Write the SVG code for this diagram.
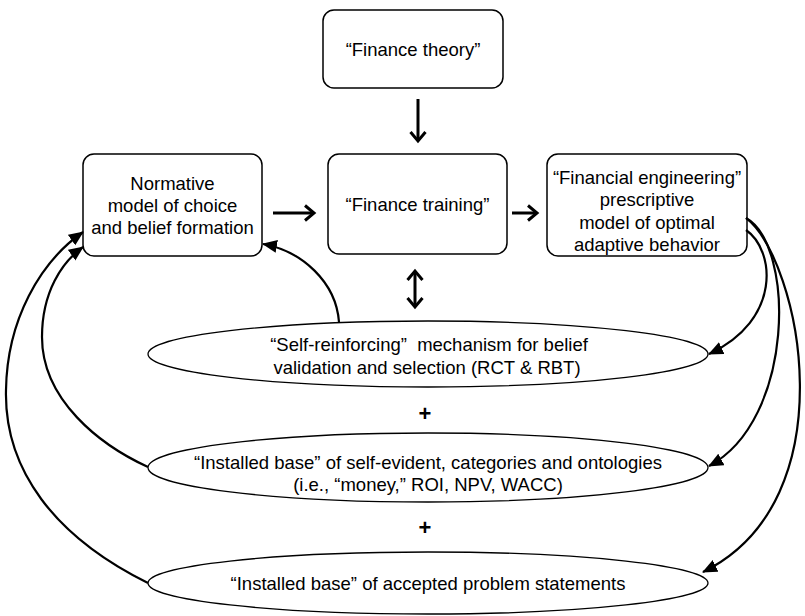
<svg xmlns="http://www.w3.org/2000/svg" width="805" height="616" viewBox="0 0 805 616">
  <style>
    .box { fill: #ffffff; stroke: #000000; stroke-width: 1.5; }
    .oval { fill: #ffffff; stroke: #000000; stroke-width: 1.3; }
    text { font-family: "Liberation Sans", Arial, sans-serif; font-size: 18.5px; fill: #000000; text-anchor: middle; }
    .plus { font-weight: bold; font-size: 22px; }
    .straight { fill: none; stroke: #000000; stroke-width: 3; }
    .curve { fill: none; stroke: #000000; stroke-width: 2.2; }
  </style>
  <defs>
    <marker id="chevron" markerUnits="userSpaceOnUse" markerWidth="14" markerHeight="18" refX="11" refY="9" orient="auto-start-reverse">
      <polyline points="2,1.5 11,9 2,16.5" fill="none" stroke="#000000" stroke-width="3"/>
    </marker>
    <marker id="tri" markerUnits="userSpaceOnUse" markerWidth="16" markerHeight="14" refX="14" refY="6.5" orient="auto">
      <path d="M0,0 L15,6.5 L0,13 Z" fill="#000000"/>
    </marker>
  </defs>

  <!-- nodes -->
  <g id="finance-theory">
    <rect class="box" x="323" y="10" width="180" height="78" rx="11"/>
    <text x="413" y="56">“Finance theory”</text>
  </g>
  <g id="normative-model">
    <rect class="box" x="83" y="154" width="179" height="102" rx="11"/>
    <text x="172.5" y="189.5">Normative</text>
    <text x="172.5" y="211.5">model of choice</text>
    <text x="172.5" y="233.5">and belief formation</text>
  </g>
  <g id="finance-training">
    <rect class="box" x="328" y="154" width="179" height="100" rx="11"/>
    <text x="417.5" y="211">“Finance training”</text>
  </g>
  <g id="financial-engineering">
    <rect class="box" x="547" y="154" width="200" height="102" rx="11"/>
    <text x="647" y="184">“Financial engineering”</text>
    <text x="647" y="206">prescriptive</text>
    <text x="647" y="228.5">model of optimal</text>
    <text x="647" y="251">adaptive behavior</text>
  </g>
  <g id="self-reinforcing">
    <ellipse class="oval" cx="428" cy="354" rx="280" ry="33"/>
    <text x="429" y="350.5" xml:space="preserve">“Self-reinforcing”  mechanism for belief</text>
    <text x="427" y="373.5">validation and selection (RCT &amp; RBT)</text>
  </g>
  <g id="installed-categories">
    <ellipse class="oval" cx="428" cy="467.5" rx="280" ry="34.5"/>
    <text x="428" y="468.5">“Installed base” of self-evident, categories and ontologies</text>
    <text x="428" y="491">(i.e., “money,” ROI, NPV, WACC)</text>
  </g>
  <g id="installed-problems">
    <ellipse class="oval" cx="428" cy="583" rx="280" ry="31"/>
    <text x="428" y="589.5">“Installed base” of accepted problem statements</text>
  </g>
  <g id="plus-signs">
    <text class="plus" x="425" y="421">+</text>
    <text class="plus" x="425" y="535">+</text>
  </g>

  <!-- connectors -->
  <g id="connectors">
    <line class="straight" x1="418" y1="99" x2="418" y2="141" marker-end="url(#chevron)"/>
    <line class="straight" x1="273" y1="213" x2="314" y2="213" marker-end="url(#chevron)"/>
    <line class="straight" x1="512" y1="213" x2="537" y2="213" marker-end="url(#chevron)"/>
    <line class="straight" x1="415" y1="271" x2="415" y2="307" marker-start="url(#chevron)" marker-end="url(#chevron)"/>

    <path class="curve" d="M339,322 C336,282 302,251 263,244" marker-end="url(#tri)"/>
    <path class="curve" d="M148,467 C100,445 42,400 42,337 C42,292 62,262 83,247" marker-end="url(#tri)"/>
    <path class="curve" d="M148,583 C55,537 4,470 6,390 C7,320 40,262 83,232" marker-end="url(#tri)"/>

    <path class="curve" d="M746,230 C775,250 782,320 709,354" marker-end="url(#tri)"/>
    <path class="curve" d="M746,218 C795,245 795,420 709,466" marker-end="url(#tri)"/>
    <path class="curve" d="M746,218 C800,260 850,500 703,572" marker-end="url(#tri)"/>
  </g>
</svg>
